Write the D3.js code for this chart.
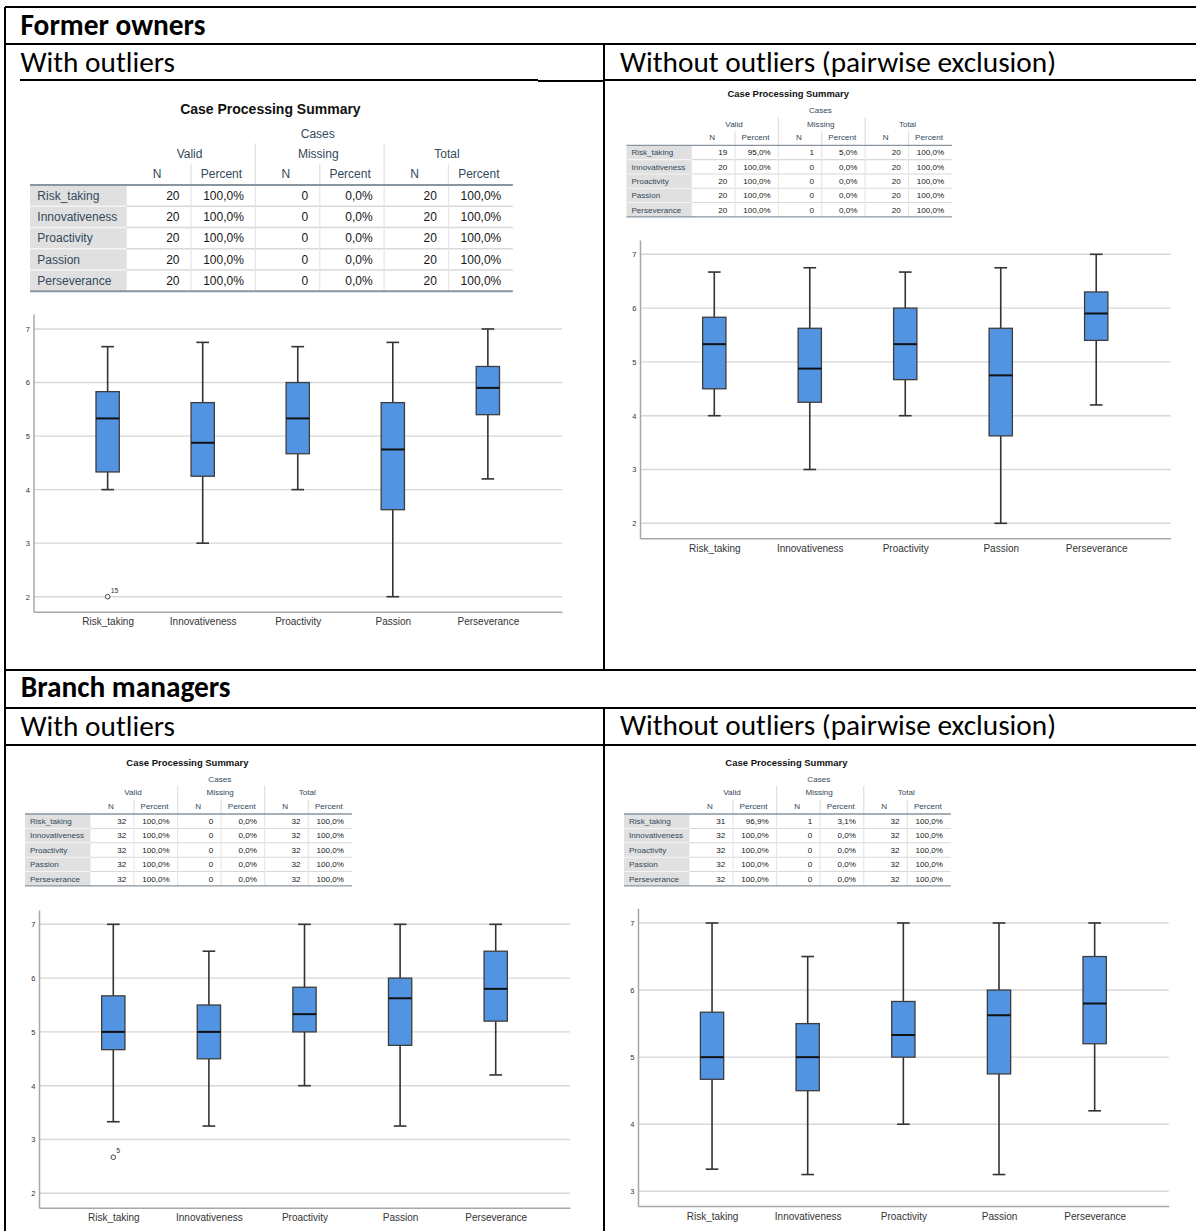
<!DOCTYPE html>
<html>
<head>
<meta charset="utf-8">
<script src="https://cdn.jsdelivr.net/npm/d3@7"></script>
<style>
  html, body { margin: 0; padding: 0; background: #fff; }
  svg { display: block; }
</style>
</head>
<body>
<svg id="chart"></svg>
<script>
// ---- Data ----------------------------------------------------------------
const categories = ["Risk_taking", "Innovativeness", "Proactivity", "Passion", "Perseverance"];

const groupTitles = ["Former owners", "Branch managers"];
const panelTitles = ["With outliers", "Without outliers (pairwise exclusion)"];
const tableTitle = "Case Processing Summary";
const tableGroupHeader = "Cases";
const tableColumnGroups = ["Valid", "Missing", "Total"];
const tableSubColumns = ["N", "Percent"];

// Case processing summaries (valid / missing counts)
const formerAllValid = [20, 20, 20, 20, 20];
const formerAllMissing = [0, 0, 0, 0, 0];
const formerTrimValid = [19, 20, 20, 20, 20];
const formerTrimMissing = [1, 0, 0, 0, 0];
const branchAllValid = [32, 32, 32, 32, 32];
const branchAllMissing = [0, 0, 0, 0, 0];
const branchTrimValid = [31, 32, 32, 32, 32];
const branchTrimMissing = [1, 0, 0, 0, 0];

// Boxplot summaries: former owners, all cases
const formerAllMin    = [4.0, 3.0, 4.0, 2.0, 4.2];
const formerAllQ1     = [4.33, 4.25, 4.67, 3.625, 5.4];
const formerAllMedian = [5.33, 4.875, 5.33, 4.75, 5.9];
const formerAllQ3     = [5.83, 5.625, 6.0, 5.625, 6.3];
const formerAllMax    = [6.67, 6.75, 6.67, 6.75, 7.0];
const formerAllOutliers = [{ category: "Risk_taking", value: 2.0, label: "15" }];

// Former owners, outlier excluded
const formerTrimMin    = [4.0, 3.0, 4.0, 2.0, 4.2];
const formerTrimQ1     = [4.5, 4.25, 4.67, 3.625, 5.4];
const formerTrimMedian = [5.33, 4.875, 5.33, 4.75, 5.9];
const formerTrimQ3     = [5.83, 5.625, 6.0, 5.625, 6.3];
const formerTrimMax    = [6.67, 6.75, 6.67, 6.75, 7.0];

// Branch managers, all cases
const branchAllMin    = [3.33, 3.25, 4.0, 3.25, 4.2];
const branchAllQ1     = [4.67, 4.5, 5.0, 4.75, 5.2];
const branchAllMedian = [5.0, 5.0, 5.33, 5.625, 5.8];
const branchAllQ3     = [5.67, 5.5, 5.83, 6.0, 6.5];
const branchAllMax    = [7.0, 6.5, 7.0, 7.0, 7.0];
const branchAllOutliers = [{ category: "Risk_taking", value: 2.67, label: "5" }];

// Branch managers, outlier excluded
const branchTrimMin    = [3.33, 3.25, 4.0, 3.25, 4.2];
const branchTrimQ1     = [4.67, 4.5, 5.0, 4.75, 5.2];
const branchTrimMedian = [5.0, 5.0, 5.33, 5.625, 5.8];
const branchTrimQ3     = [5.67, 5.5, 5.83, 6.0, 6.5];
const branchTrimMax    = [7.0, 6.5, 7.0, 7.0, 7.0];

// Y-axis tick values
const formerTicks = [2, 3, 4, 5, 6, 7];
const branchAllTicks = [2, 3, 4, 5, 6, 7];
const branchTrimTicks = [3, 4, 5, 6, 7];

// ---- Drawing -------------------------------------------------------------
const W = 1196, H = 1231;
const svg = d3.select("#chart").attr("width", W).attr("height", H);
svg.append("rect").attr("width", W).attr("height", H).attr("fill", "#fff");

const SANS = "'Liberation Sans', Arial, Helvetica, sans-serif";
const HEAD = "Carlito, Lato, 'Open Sans', sans-serif";

// Document frame (table grid lines)
const frame = svg.append("g").attr("stroke", "#000").attr("stroke-width", 2).attr("fill", "none");
[
  [5, 7, 1196, 7], [5, 7, 5, 1231], [5, 44, 1196, 44],
  [20, 80, 538, 80], [538, 81, 604, 81], [604, 80, 1196, 80],
  [604, 44, 604, 670], [5, 670, 1196, 670], [5, 708, 1196, 708],
  [5, 745, 1196, 745], [604, 708, 604, 1231]
].forEach(([x1, y1, x2, y2]) =>
  frame.append("line").attr("x1", x1).attr("y1", y1).attr("x2", x2).attr("y2", y2));

// Section headings, sized to their cell widths
function fitFont(sel, target) {
  const w = sel.node().getComputedTextLength();
  const fs = parseFloat(sel.attr("font-size"));
  return fs * target / w;
}
const heads = svg.append("g").attr("font-family", HEAD).attr("fill", "#000");
const g1 = heads.append("text").attr("x", 20.5).attr("y", 35).attr("font-size", 24)
  .attr("font-weight", 700).text(groupTitles[0]);
const boldSize = fitFont(g1, 185);
g1.attr("font-size", boldSize);
heads.append("text").attr("x", 20.7).attr("y", 697).attr("font-size", boldSize)
  .attr("font-weight", 700).text(groupTitles[1]);

const p1 = heads.append("text").attr("x", 20.5).attr("y", 72).attr("font-size", 24).text(panelTitles[0]);
const regSize = fitFont(p1, 154.5);
p1.attr("font-size", regSize);
heads.append("text").attr("x", 620).attr("y", 72).attr("font-size", regSize).text(panelTitles[1]);
heads.append("text").attr("x", 20.5).attr("y", 736).attr("font-size", regSize).text(panelTitles[0]);
heads.append("text").attr("x", 620).attr("y", 735).attr("font-size", regSize).text(panelTitles[1]);

// SPSS-style case processing summary table
function drawTable(cfg, valid, missing) {
  const s = cfg.s, L = cfg.left, Y = cfg.line;
  const labelW = 96.7 * s, colW = 64.35 * s, rowH = 21.25 * s;
  const width = labelW + 6 * colW;
  const fs = 12 * s;
  const headCol = "#34495a";
  const total = valid.map((v, i) => v + missing[i]);
  const pct = (n, t) => (n / t * 100).toFixed(1).replace(".", ",") + "%";
  const rows = categories.map((c, i) => ({
    label: c,
    cells: [valid[i], pct(valid[i], total[i]), missing[i], pct(missing[i], total[i]), total[i], pct(total[i], total[i])]
  }));
  const g = svg.append("g").attr("font-family", SANS);
  const colX = i => L + labelW + i * colW;

  g.append("text").attr("x", L + width / 2 - 1).attr("y", Y - 71.5 * s)
    .attr("text-anchor", "middle").attr("font-size", 14 * s).attr("font-weight", 700)
    .attr("fill", "#111").text(tableTitle);
  g.append("text").attr("x", colX(3) - 2 * s).attr("y", Y - 47.4 * s)
    .attr("text-anchor", "middle").attr("font-size", fs).attr("fill", headCol).text(tableGroupHeader);
  tableColumnGroups.forEach((t, k) => {
    g.append("text").attr("x", colX(2 * k + 1) - 1.5 * s).attr("y", Y - 27.4 * s)
      .attr("text-anchor", "middle").attr("font-size", fs).attr("fill", headCol).text(t);
  });
  for (let i = 0; i < 6; i++) {
    g.append("text").attr("x", colX(i) + colW / 2 - 1.8 * s).attr("y", Y - 7.4 * s)
      .attr("text-anchor", "middle").attr("font-size", fs).attr("fill", headCol)
      .text(tableSubColumns[i % 2]);
  }
  // header separators
  [2, 4].forEach(i => g.append("line").attr("x1", colX(i)).attr("x2", colX(i))
    .attr("y1", Y - 41.7 * s).attr("y2", Y).attr("stroke", "#e2e2e2").attr("stroke-width", 1.3));
  [1, 3, 5].forEach(i => g.append("line").attr("x1", colX(i)).attr("x2", colX(i))
    .attr("y1", Y - 21 * s).attr("y2", Y).attr("stroke", "#e2e2e2").attr("stroke-width", 1.3));

  // body
  const body = g.append("g");
  rows.forEach((r, j) => {
    const top = Y + j * rowH;
    body.append("rect").attr("x", L).attr("y", top).attr("width", labelW).attr("height", rowH)
      .attr("fill", "#e0e0e0");
    body.append("text").attr("x", L + 7.3 * s).attr("y", top + rowH / 2 + 4.3 * s)
      .attr("font-size", fs).attr("fill", headCol).text(r.label);
    r.cells.forEach((v, i) => {
      body.append("text").attr("x", colX(i + 1) - 11.5 * s).attr("y", top + rowH / 2 + 4.3 * s)
        .attr("text-anchor", "end").attr("font-size", fs).attr("fill", "#151515").text(v);
    });
    if (j > 0) {
      body.append("line").attr("x1", L).attr("x2", L + labelW).attr("y1", top).attr("y2", top)
        .attr("stroke", "#f4f4f4").attr("stroke-width", 1.5 * s);
      body.append("line").attr("x1", L + labelW).attr("x2", L + width).attr("y1", top).attr("y2", top)
        .attr("stroke", "#d8d8d8").attr("stroke-width", 1.5 * s);
    }
  });
  for (let i = 1; i < 6; i++) {
    body.append("line").attr("x1", colX(i)).attr("x2", colX(i)).attr("y1", Y).attr("y2", Y + 5 * rowH)
      .attr("stroke", "#e6e6e6").attr("stroke-width", 1.2);
  }
  g.append("line").attr("x1", L).attr("x2", L + width).attr("y1", Y).attr("y2", Y)
    .attr("stroke", "#8a959e").attr("stroke-width", Math.max(1.3, 2 * s));
  g.append("line").attr("x1", L).attr("x2", L + width).attr("y1", Y + 5 * rowH).attr("y2", Y + 5 * rowH)
    .attr("stroke", "#8a959e").attr("stroke-width", Math.max(1.3, 2 * s));
}

// Boxplot panel
function drawBoxplot(cfg, st) {
  const g = svg.append("g").attr("font-family", SANS);
  const x = d3.scalePoint().domain(categories).range([cfg.left, cfg.right]).padding(cfg.pad);
  const y = d3.scaleLinear().domain(cfg.domain).range([cfg.bottom, cfg.top]);

  g.append("g").selectAll("line").data(cfg.ticks).join("line")
    .attr("x1", cfg.left).attr("x2", cfg.right)
    .attr("y1", d => y(d)).attr("y2", d => y(d))
    .attr("stroke", "#d7d7d7").attr("stroke-width", 1.4);

  const ay = g.append("g").attr("transform", `translate(${cfg.left},0)`)
    .call(d3.axisLeft(y).tickValues(cfg.ticks).tickSize(0).tickSizeOuter(0).tickPadding(3.5).tickFormat(d3.format("d")));
  ay.select(".domain").attr("stroke", "#a8a8a8").attr("stroke-width", 1.5);
  ay.selectAll("text").attr("font-size", 7.5).attr("fill", "#333").attr("font-family", SANS);

  const ax = g.append("g").attr("transform", `translate(0,${cfg.bottom})`)
    .call(d3.axisBottom(x).tickSize(0).tickSizeOuter(0).tickPadding(6.6));
  ax.select(".domain").attr("stroke", "#a8a8a8").attr("stroke-width", 1.5);
  ax.selectAll("text").attr("font-size", 10).attr("fill", "#333").attr("font-family", SANS);

  const boxW = 23.3, capW = 12.7;
  const rows = categories.map((c, i) => ({
    c, min: st.min[i], q1: st.q1[i], med: st.median[i], q3: st.q3[i], max: st.max[i]
  }));
  const b = g.append("g").selectAll("g").data(rows).join("g");
  const wStroke = "#333", wWidth = 1.6;
  b.append("line").attr("x1", d => x(d.c)).attr("x2", d => x(d.c))
    .attr("y1", d => y(d.max)).attr("y2", d => y(d.q3)).attr("stroke", wStroke).attr("stroke-width", wWidth);
  b.append("line").attr("x1", d => x(d.c)).attr("x2", d => x(d.c))
    .attr("y1", d => y(d.q1)).attr("y2", d => y(d.min)).attr("stroke", wStroke).attr("stroke-width", wWidth);
  b.append("line").attr("x1", d => x(d.c) - capW / 2).attr("x2", d => x(d.c) + capW / 2)
    .attr("y1", d => y(d.max)).attr("y2", d => y(d.max)).attr("stroke", wStroke).attr("stroke-width", wWidth);
  b.append("line").attr("x1", d => x(d.c) - capW / 2).attr("x2", d => x(d.c) + capW / 2)
    .attr("y1", d => y(d.min)).attr("y2", d => y(d.min)).attr("stroke", wStroke).attr("stroke-width", wWidth);
  b.append("rect").attr("x", d => x(d.c) - boxW / 2).attr("width", boxW)
    .attr("y", d => y(d.q3)).attr("height", d => y(d.q1) - y(d.q3))
    .attr("fill", "#5294e2").attr("stroke", "#3d3d3d").attr("stroke-width", 1.3);
  b.append("line").attr("x1", d => x(d.c) - boxW / 2).attr("x2", d => x(d.c) + boxW / 2)
    .attr("y1", d => y(d.med)).attr("y2", d => y(d.med)).attr("stroke", "#111").attr("stroke-width", 2);

  (st.outliers || []).forEach(o => {
    g.append("circle").attr("cx", x(o.category)).attr("cy", y(o.value)).attr("r", 2.3)
      .attr("fill", "#fff").attr("stroke", "#444").attr("stroke-width", 1);
    g.append("text").attr("x", x(o.category) + 3).attr("y", y(o.value) - 4)
      .attr("font-size", 7).attr("fill", "#333").text(o.label);
  });
}

// Tables
drawTable({ left: 30, line: 185, s: 1 }, formerAllValid, formerAllMissing);
drawTable({ left: 626.5, line: 145.3, s: 0.674 }, formerTrimValid, formerTrimMissing);
drawTable({ left: 25, line: 814, s: 0.677 }, branchAllValid, branchAllMissing);
drawTable({ left: 624, line: 814, s: 0.677 }, branchTrimValid, branchTrimMissing);

// Boxplots
drawBoxplot({ left: 33.5, right: 562, top: 314, bottom: 611.7, domain: [1.72, 7.28], pad: 0.78, ticks: formerTicks },
  { min: formerAllMin, q1: formerAllQ1, median: formerAllMedian, q3: formerAllQ3, max: formerAllMax, outliers: formerAllOutliers });
drawBoxplot({ left: 640, right: 1170.5, top: 240, bottom: 538.3, domain: [1.721, 7.266], pad: 0.778, ticks: formerTicks },
  { min: formerTrimMin, q1: formerTrimQ1, median: formerTrimMedian, q3: formerTrimQ3, max: formerTrimMax });
drawBoxplot({ left: 39, right: 570, top: 910, bottom: 1207.7, domain: [1.732, 7.266], pad: 0.777, ticks: branchAllTicks },
  { min: branchAllMin, q1: branchAllQ1, median: branchAllMedian, q3: branchAllQ3, max: branchAllMax, outliers: branchAllOutliers });
drawBoxplot({ left: 638, right: 1168.7, top: 908.3, bottom: 1206, domain: [2.781, 7.219], pad: 0.774, ticks: branchTrimTicks },
  { min: branchTrimMin, q1: branchTrimQ1, median: branchTrimMedian, q3: branchTrimQ3, max: branchTrimMax });
</script>
</body>
</html>
